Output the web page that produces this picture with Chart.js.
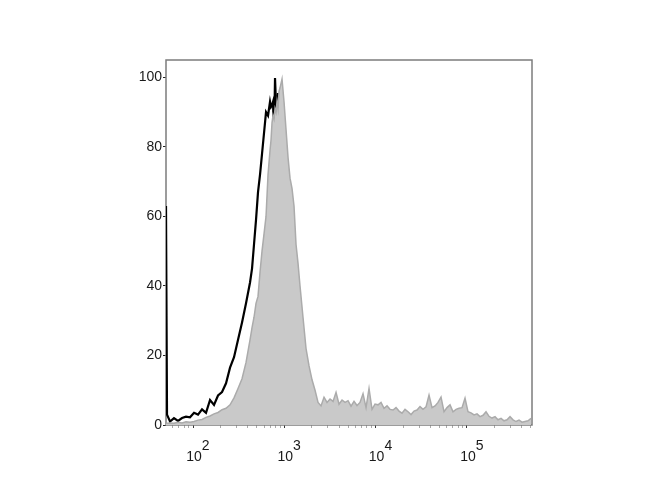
<!DOCTYPE html>
<html>
<head>
<meta charset="utf-8">
<script src="https://cdn.jsdelivr.net/npm/chart.js@4.4.1/dist/chart.umd.min.js"></script>
<style>
  html, body { margin: 0; padding: 0; background: #fff; }
  #wrap { width: 670px; height: 500px; }
</style>
</head>
<body>
<div id="wrap"><canvas id="histo" width="670" height="500"></canvas></div>
<script>
// channel centres (fluorescence intensity, log axis)
const fluorescence = [
  50.6, 51.9, 56.0, 61.9, 68.5, 75.8, 83.8, 92.7, 102.6, 113.4, 125.5, 138.8, 153.6, 169.8, 187.9, 207.8,
  229.9, 254.3, 281.3, 311.2, 344.2, 380.7, 421.1,
  442.9, 465.8, 489.8, 515.1, 541.9, 569.9, 599.4, 630.4, 663.0,
  697.3, 715.1, 733.4, 752.1, 771.3, 791.0, 811.2, 831.9, 853.2, 875.0, 897.3,
  943.7, 992.5, 1044, 1098, 1155, 1215, 1277, 1343, 1413, 1486,
  1602, 1729, 1865, 2011, 2170, 2340, 2523, 2722, 2936, 3167,
  3416, 3684, 3973, 4286, 4623, 4986, 5378, 5800, 6256, 6747,
  7278, 7851, 8467, 9133, 9849, 10624, 11459, 12359, 13331, 14379,
  15510, 16727, 18043, 19458, 20989, 22636, 24417, 26338, 28406, 30639,
  33044, 35645, 38443, 41467, 44729, 48242, 52036, 56121, 60534, 65284,
  70420, 75960, 81923, 88365, 95300, 102800, 110860, 119580, 128970, 139110,
  150050, 161820, 174590, 188290, 203100, 219000, 236300, 254900, 274900, 296500,
  319800, 344900, 372000, 401300, 432800, 466900, 503500
];

// grey filled histogram (% of max)
const controlCounts = [
  0.5, 0.5, 0.6, 0.5, 0.8, 0.6, 0.9, 0.8, 1.0, 1.4, 1.6, 2.2, 2.6, 3.2, 3.6, 4.4,
  4.8, 5.8, 7.8, 10.5, 13.3, 18, 24.5,
  28, 31, 35, 37, 44, 50, 55, 60, 72,
  79, 82, 87, 89, 88, 91, 90, 93, 91, 96, 97,
  99.5, 93, 85, 77, 71, 68, 63, 52, 46.5, 40,
  31, 22, 17, 13, 10, 6.5, 5.5, 8.0, 6.5, 7.5,
  6.8, 9.4, 6.0, 7.2, 6.5, 7.0, 5.4, 6.8, 5.6, 6.5,
  9.0, 5.0, 10.5, 4.5, 6.0, 5.8, 6.5, 4.8, 5.5, 4.5,
  4.3, 5.0, 4.0, 3.4, 4.5, 3.8, 3.0, 4.0, 4.3, 5.3,
  4.5, 5.2, 8.6, 5.0, 5.5, 6.5, 8.0, 3.8, 5.0, 5.8,
  3.8, 4.5, 4.8, 5.0, 7.7, 3.8, 3.5, 2.9, 3.2, 2.4,
  2.8, 3.8, 2.5, 2.0, 2.4, 1.5, 1.9, 1.2, 1.5, 2.4,
  1.5, 1.0, 1.4, 0.8, 1.0, 1.2, 1.9
];

// black outline histogram (% of max)
const stainedCounts = [
  63, 3, 1.0, 2.0, 1.2, 2.0, 2.4, 2.2, 3.5, 3.0, 4.5, 3.5, 7.2, 5.8, 8.5, 9.5,
  12.0, 16.5, 19.5, 24.5, 29.5, 35, 41,
  45, 52, 59, 67, 72, 78, 84, 90, 89,
  93, 91.5, 92, 93, 82, 99.8, 92, 86, 95.5, 90, 87.5,
  79, 71, 61, 49, 34, 31.5, 28.5, 23, 17.5, 13,
  6.3, 3, 1.3, 0.6, 0.3, 0.3, 0.3, 0.3, 0.3, 0.3,
  0.3, 0.3, 0.3, 0.3, 0.3, 0.3, 0.3, 0.3, 0.3, 0.3,
  0.3, 0.3, 0.3, 0.3, 0.3, 0.3, 0.3, 0.3, 0.3, 0.3,
  0.3, 0.3, 0.3, 0.3, 0.3, 0.3, 0.3, 0.3, 0.3, 0.3,
  0.3, 0.3, 0.3, 0.3, 0.3, 0.3, 0.3, 0.3, 0.3, 0.3,
  0.3, 0.3, 0.3, 0.3, 0.3, 0.3, 0.3, 0.3, 0.3, 0.3,
  0.3, 0.3, 0.3, 0.3, 0.3, 0.3, 0.3, 0.3, 0.3, 0.3,
  0.3, 0.3, 0.3, 0.3, 0.3, 0.3, 0.3
];

const countTicks = [0, 20, 40, 60, 80, 100];
const decadeExponents = [2, 3, 4, 5];

const fontFamily = "'Liberation Sans', Arial, sans-serif";

function toPoints(values) {
  return fluorescence.map((x, i) => ({ x: x, y: values[i] }));
}

// grey box round the plot, under the histograms
const framePlugin = {
  id: "frame",
  beforeDatasetsDraw(chart) {
    const { ctx, chartArea: a } = chart;
    ctx.save();
    ctx.strokeStyle = "#7c7c7c";
    ctx.lineWidth = 1.5;
    ctx.strokeRect(a.left, a.top, a.right - a.left, a.bottom - a.top);
    ctx.restore();
  },
};

// "10" with a raised exponent under each decade
const decadeLabels = {
  id: "decadeLabels",
  afterDraw(chart) {
    const ctx = chart.ctx;
    const xs = chart.scales.x;
    ctx.save();
    ctx.font = "14px " + fontFamily;
    ctx.fillStyle = "#1a1a1a";
    ctx.textBaseline = "alphabetic";
    const w = ctx.measureText("10").width;
    for (let e of decadeExponents) {
      const px = xs.getPixelForValue(Math.pow(10, e));
      ctx.textAlign = "center";
      ctx.fillText("10", px + 1, 461);
      ctx.textAlign = "left";
      ctx.fillText(String(e), px + 1 + w / 2, 450);
    }
    ctx.restore();
  },
};

new Chart(document.getElementById("histo"), {
  type: "line",
  data: {
    datasets: [
      {
        label: "control",
        data: toPoints(controlCounts),
        borderColor: "#ababab",
        borderWidth: 1.5,
        backgroundColor: "#c9c9c9",
        fill: "origin",
      },
      {
        label: "stained",
        data: toPoints(stainedCounts),
        borderColor: "#000",
        borderWidth: 2.2,
        fill: false,
      },
    ],
  },
  options: {
    responsive: false,
    animation: false,
    layout: { padding: { top: 60, right: 138, left: 0, bottom: 0 } },
    plugins: { legend: { display: false }, tooltip: { enabled: false } },
    elements: { point: { radius: 0 }, line: { tension: 0 } },
    scales: {
      x: {
        type: "logarithmic",
        min: 50.6,
        max: 516000,
        afterFit: (s) => { s.height = 75; },
        afterBuildTicks: (s) => {
          let t = [];
          for (let e = 1; e <= 5; e++) {
            for (let m = 1; m <= 9; m++) {
              const v = m * Math.pow(10, e);
              if (v >= s.min && v <= s.max) t.push({ value: v, major: m === 1 });
            }
          }
          s.ticks = t;
        },
        grid: {
          drawOnChartArea: false,
          tickLength: 3,
          tickWidth: 1,
          tickColor: (c) => (c.tick && c.tick.major ? "#333" : "#aaa"),
        },
        border: { display: false },
        ticks: { display: false },
      },
      y: {
        min: 0,
        max: 105,
        afterFit: (s) => { s.width = 166; },
        afterBuildTicks: (s) => { s.ticks = countTicks.map((v) => ({ value: v })); },
        grid: { drawOnChartArea: false, tickLength: 3, tickColor: "#222" },
        border: { display: false },
        ticks: { font: { family: fontFamily, size: 14 }, color: "#1a1a1a", padding: 1 },
      },
    },
  },
  plugins: [framePlugin, decadeLabels],
});
</script>
</body>
</html>
